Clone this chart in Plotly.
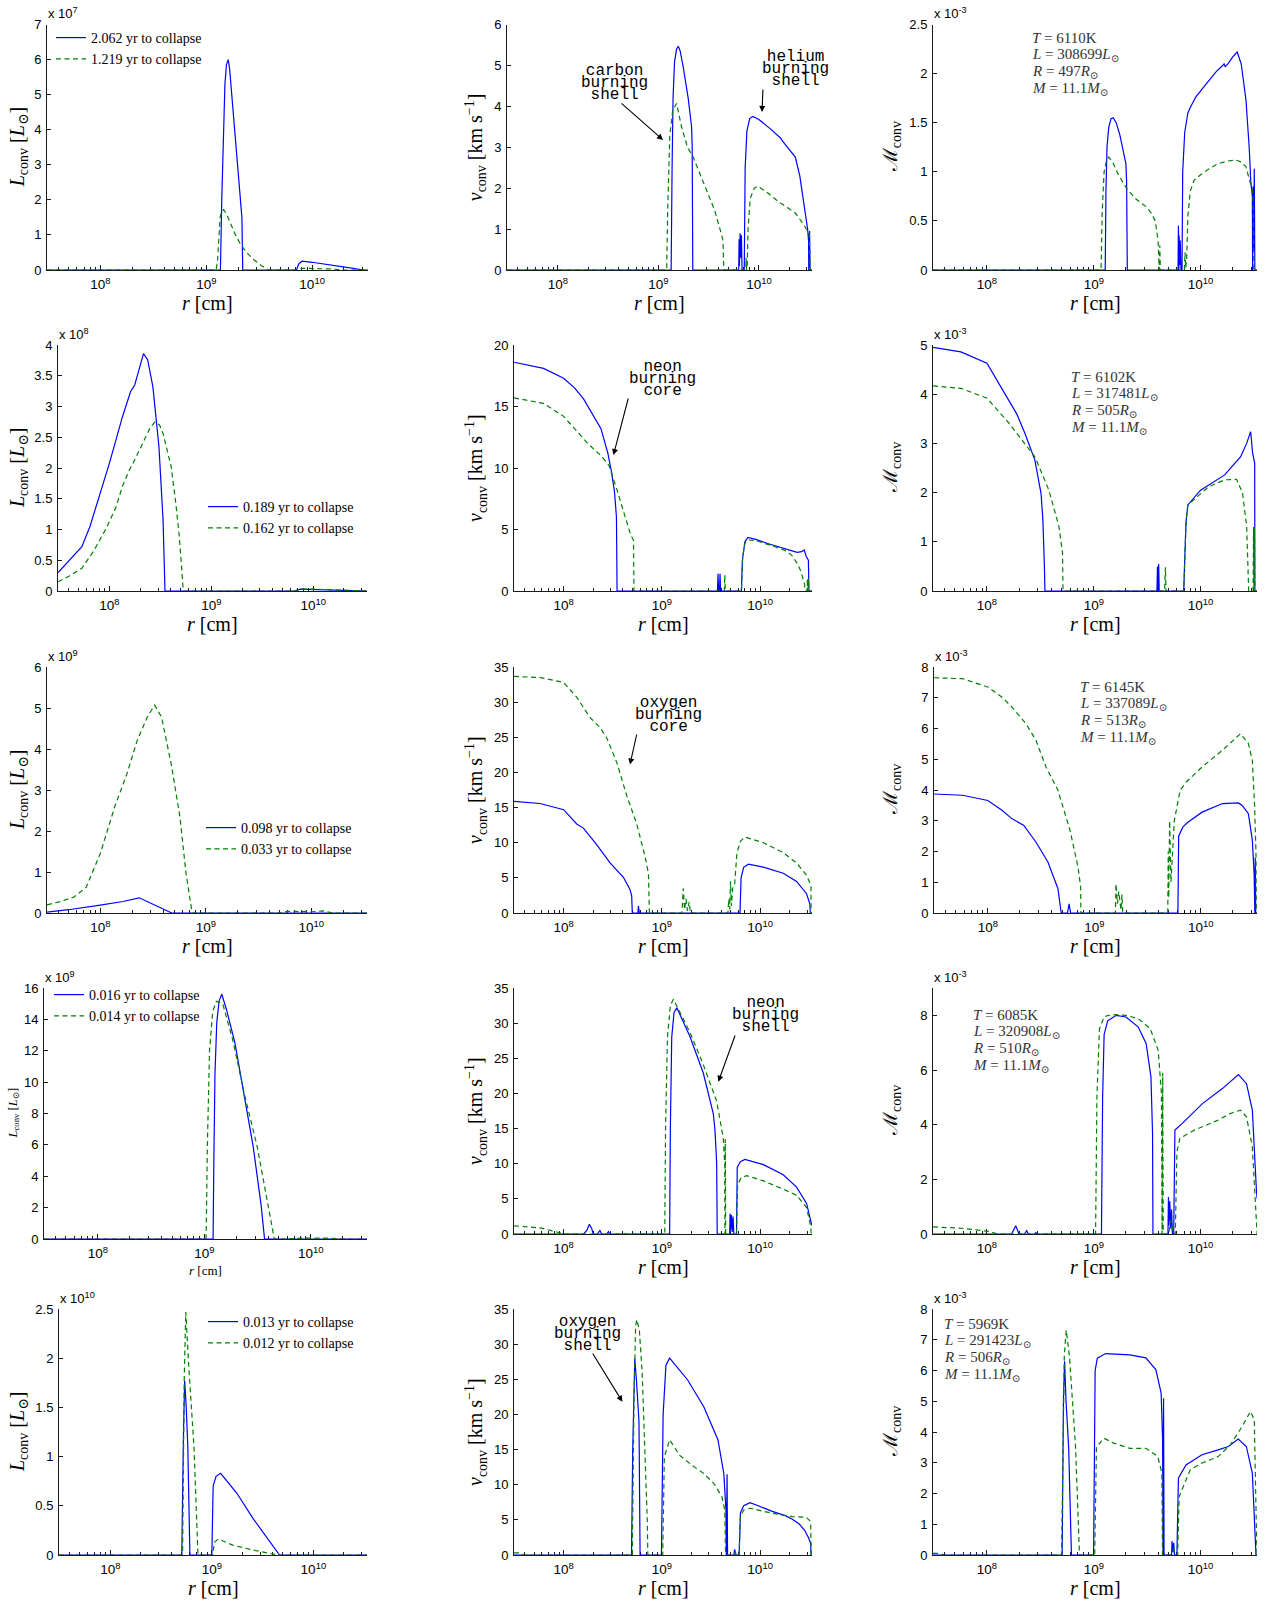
import plotly.graph_objects as go

W, H = 1270, 1606
BLUE = "#0000ff"
GREEN = "#008000"
TICK_FONT = "Liberation Sans, Arial, Helvetica, sans-serif"
SERIF = "Liberation Serif, Times New Roman, DejaVu Serif, serif"
MONO = "Liberation Mono, Courier New, DejaVu Sans Mono, monospace"

# ---------------------------------------------------------------- data
# r in cm; L_conv in units of the panel exponent; v_conv in km/s; Mach in 1e-3
# Row 1 : 2.062 yr (a, blue) / 1.219 yr (b, green) to collapse
r_L1_a = [3.13e7, 1.36e9, 1.40e9, 1.45e9, 1.50e9, 1.55e9, 1.61e9, 1.66e9, 1.75e9, 1.90e9, 2.05e9, 2.14e9, 2.17e9, 2.21e9, 7.1e9, 7.5e9, 8.05e9, 1.0e10, 1.5e10, 2.2e10, 3.06e10, 3.38e10]
L1_a = [0, 0, 2.0, 4.0, 5.3, 5.85, 6.0, 5.75, 4.9, 3.65, 2.5, 1.85, 1.5, 0, 0, 0.18, 0.25, 0.22, 0.15, 0.07, 0, 0]
r_L1_b = [3.13e7, 1.24e9, 1.28e9, 1.31e9, 1.35e9, 1.40e9, 1.46e9, 1.55e9, 1.70e9, 1.90e9, 2.10e9, 2.40e9, 2.80e9, 3.30e9, 3.90e9, 7.5e9, 8.0e9, 1.0e10, 1.5e10, 2.0e10, 3.38e10]
L1_b = [0, 0, 0.3, 1.0, 1.5, 1.68, 1.72, 1.6, 1.3, 0.98, 0.74, 0.5, 0.3, 0.13, 0, 0, 0.05, 0.05, 0.03, 0, 0]

r_v1_a = [3.13e7, 1.34e9, 1.37e9, 1.40e9, 1.45e9, 1.52e9, 1.58e9, 1.65e9, 1.77e9, 1.98e9, 2.14e9, 2.17e9, 2.20e9, 6.3e9, 6.35e9, 6.4e9, 6.5e9, 6.6e9, 6.7e9, 6.8e9, 7.15e9, 7.3e9, 7.6e9, 8.1e9, 8.7e9, 1.0e10, 1.3e10, 1.65e10, 1.72e10, 2.0e10, 2.3e10, 2.55e10, 2.8e10, 3.05e10, 3.12e10, 3.13e10, 3.15e10, 3.17e10, 3.19e10, 3.21e10, 3.23e10, 3.38e10]
v1_a = [0, 0, 2.5, 4.2, 5.1, 5.4, 5.47, 5.35, 4.95, 4.2, 3.5, 3.0, 0, 0, 0.75, 0.1, 0.9, 0.3, 0.85, 0, 0, 2.5, 3.4, 3.7, 3.75, 3.68, 3.45, 3.22, 3.15, 2.95, 2.76, 2.3, 1.6, 1.0, 0.7, 0, 0.9, 0.2, 0.95, 0.3, 0, 0]
r_v1_b = [3.13e7, 1.21e9, 1.24e9, 1.30e9, 1.39e9, 1.52e9, 1.70e9, 1.95e9, 2.22e9, 2.60e9, 3.10e9, 3.63e9, 4.10e9, 4.39e9, 4.45e9, 4.50e9, 7.40e9, 7.45e9, 7.55e9, 7.65e9, 7.8e9, 8.2e9, 9.0e9, 9.7e9, 1.2e10, 1.6e10, 2.0e10, 2.33e10, 2.8e10, 3.15e10, 3.2e10, 3.22e10, 3.38e10]
v1_b = [0, 0, 1.5, 3.3, 3.9, 4.07, 3.5, 3.0, 2.76, 2.35, 1.85, 1.46, 1.0, 0.73, 0.2, 0, 0, 0.3, 0, 0.1, 1.0, 1.75, 2.0, 2.05, 1.9, 1.65, 1.5, 1.38, 1.1, 0.9, 0.55, 0, 0]

r_M1_a = [3.13e7, 1.28e9, 1.30e9, 1.33e9, 1.38e9, 1.45e9, 1.52e9, 1.62e9, 1.75e9, 1.90e9, 2.00e9, 2.03e9, 2.06e9, 6.15e9, 6.2e9, 6.25e9, 6.3e9, 6.38e9, 6.45e9, 6.55e9, 6.7e9, 6.8e9, 7.1e9, 7.6e9, 8.05e9, 9.0e9, 1.1e10, 1.4e10, 1.6e10, 1.66e10, 1.7e10, 1.8e10, 2.0e10, 2.2e10, 2.4e10, 2.66e10, 2.85e10, 2.95e10, 3.05e10, 3.07e10, 3.1e10, 3.14e10, 3.18e10, 3.22e10, 3.38e10]
M1_a = [0, 0, 0.8, 1.25, 1.45, 1.54, 1.55, 1.5, 1.38, 1.2, 1.08, 0.9, 0, 0, 0.45, 0, 0.35, 0.05, 0.3, 0, 0, 1.0, 1.4, 1.6, 1.66, 1.76, 1.88, 2.02, 2.08, 2.1, 2.07, 2.1, 2.17, 2.22, 2.1, 1.73, 1.25, 0.9, 0.75, 0, 0.85, 0.2, 1.03, 0, 0]
r_M1_b = [3.13e7, 1.17e9, 1.20e9, 1.25e9, 1.32e9, 1.38e9, 1.50e9, 1.70e9, 2.03e9, 2.50e9, 3.14e9, 3.50e9, 3.76e9, 4.00e9, 4.10e9, 4.15e9, 4.20e9, 7.05e9, 7.15e9, 7.25e9, 7.4e9, 7.6e9, 8.0e9, 8.65e9, 1.0e10, 1.2e10, 1.44e10, 1.8e10, 2.14e10, 2.4e10, 2.66e10, 2.9e10, 3.07e10, 3.12e10, 3.15e10, 3.38e10]
M1_b = [0, 0, 0.6, 1.0, 1.12, 1.15, 1.1, 0.97, 0.83, 0.72, 0.64, 0.57, 0.5, 0.3, 0, 0.25, 0, 0, 0.18, 0.02, 0.1, 0.55, 0.8, 0.91, 0.97, 1.03, 1.08, 1.11, 1.12, 1.1, 1.05, 0.9, 0.8, 0.6, 0, 0]

# Row 2 : 0.189 yr / 0.162 yr
r_L2_a = [3.13e7, 4.07e7, 5.36e7, 6.44e7, 7.73e7, 1.0e8, 1.34e8, 1.61e8, 1.77e8, 1.94e8, 2.16e8, 2.37e8, 2.67e8, 3.06e8, 3.36e8, 3.51e8, 6.5e9, 7.5e9, 1.0e10, 2.0e10, 3.38e10]
L2_a = [0.3, 0.5, 0.72, 1.05, 1.48, 2.08, 2.83, 3.24, 3.35, 3.59, 3.86, 3.76, 3.32, 2.35, 1.15, 0, 0, 0.03, 0.025, 0.01, 0]
r_L2_b = [3.13e7, 4.0e7, 5.36e7, 7.0e7, 9.3e7, 1.15e8, 1.34e8, 1.55e8, 1.77e8, 2.22e8, 2.5e8, 2.8e8, 3.1e8, 3.36e8, 3.7e8, 4.04e8, 4.5e8, 4.85e8, 5.1e8, 5.3e8, 6.5e9, 7.5e9, 1.0e10, 2.0e10, 3.38e10]
L2_b = [0.15, 0.24, 0.37, 0.65, 1.02, 1.35, 1.70, 1.95, 2.13, 2.46, 2.65, 2.75, 2.7, 2.56, 2.3, 2.02, 1.4, 0.88, 0.4, 0, 0, 0.03, 0.03, 0.01, 0]

r_v2_a = [3.13e7, 6.25e7, 1.0e8, 1.3e8, 1.6e8, 1.9e8, 2.1e8, 2.4e8, 2.82e8, 3.1e8, 3.3e8, 3.45e8, 3.5e8, 3.68e9, 3.73e9, 3.78e9, 3.86e9, 3.91e9, 3.96e9, 6.45e9, 6.6e9, 7.0e9, 7.5e9, 9.0e9, 1.24e10, 1.98e10, 2.38e10, 2.65e10, 2.81e10, 2.95e10, 3.1e10, 3.14e10, 3.38e10]
v2_a = [18.6, 18.1, 17.3, 16.5, 15.6, 14.6, 14.0, 13.2, 11.2, 9.5, 8.0, 6.0, 0, 0, 1.4, 0, 0, 1.4, 0, 0, 2.5, 4.0, 4.36, 4.2, 3.82, 3.33, 3.14, 3.2, 3.33, 2.8, 2.5, 0, 0]
r_v2_b = [3.13e7, 6.25e7, 1.0e8, 1.76e8, 2.4e8, 2.9e8, 3.5e8, 4.1e8, 4.8e8, 5.15e8, 5.2e8, 4.32e9, 4.37e9, 4.42e9, 6.45e9, 6.65e9, 7.0e9, 7.6e9, 9.0e9, 1.24e10, 1.8e10, 2.1e10, 2.38e10, 2.6e10, 2.74e10, 2.84e10, 2.86e10, 3.0e10, 3.03e10, 3.06e10, 3.1e10, 3.14e10, 3.38e10]
v2_b = [15.7, 15.25, 14.2, 12.0, 11.0, 10.2, 8.2, 6.3, 4.6, 4.1, 0, 0, 1.3, 0, 0, 2.8, 3.9, 4.15, 4.1, 3.75, 3.3, 2.9, 2.25, 1.6, 1.03, 0.5, 0, 0, 1.0, 0, 1.0, 0, 0]

r_M2_a = [3.13e7, 5.7e7, 1.0e8, 1.35e8, 1.6e8, 1.75e8, 1.9e8, 2.27e8, 2.81e8, 3.21e8, 3.34e8, 3.45e8, 3.49e8, 3.9e9, 3.95e9, 4.0e9, 4.05e9, 4.1e9, 6.95e9, 7.3e9, 7.6e9, 1.0e10, 1.68e10, 2.37e10, 2.7e10, 2.94e10, 3.07e10, 3.21e10, 3.22e10, 3.38e10]
M2_a = [4.95, 4.86, 4.63, 4.15, 3.85, 3.71, 3.6, 3.2, 2.66, 1.98, 1.44, 0.5, 0, 0, 0.5, 0, 0.55, 0, 0, 1.4, 1.75, 2.05, 2.36, 2.73, 3.0, 3.24, 2.8, 2.6, 0, 0]
r_M2_b = [3.13e7, 5.7e7, 1.0e8, 1.61e8, 2.81e8, 3.8e8, 4.72e8, 5.1e8, 5.15e8, 4.6e9, 4.68e9, 4.75e9, 6.95e9, 7.3e9, 7.6e9, 1.19e10, 1.68e10, 2.17e10, 2.47e10, 2.7e10, 2.82e10, 3.1e10, 3.13e10, 3.16e10, 3.19e10, 3.22e10, 3.38e10]
M2_b = [4.17, 4.12, 3.92, 3.41, 2.73, 2.05, 1.31, 0.77, 0, 0, 0.48, 0, 0, 1.4, 1.75, 2.12, 2.26, 2.27, 1.99, 1.31, 0, 0, 1.3, 0, 1.3, 0, 0]

# Row 3 : 0.098 yr / 0.033 yr
r_L3_a = [3.13e7, 5.0e7, 1.0e8, 1.64e8, 2.34e8, 3.05e8, 3.98e8, 4.76e8, 3.38e10]
L3_a = [0.02, 0.08, 0.19, 0.28, 0.37, 0.23, 0.08, 0, 0]
r_L3_b = [3.13e7, 4.2e7, 5.64e7, 7.36e7, 1.0e8, 1.37e8, 1.79e8, 2.24e8, 2.79e8, 3.27e8, 3.81e8, 4.76e8, 5.69e8, 6.5e8, 7.43e8, 5.0e9, 6.0e9, 1.0e10, 1.3e10, 1.6e10, 3.38e10]
L3_b = [0.2, 0.28, 0.39, 0.63, 1.45, 2.59, 3.40, 4.21, 4.78, 5.07, 4.78, 3.56, 2.34, 0.96, 0, 0, 0.04, 0.03, 0.05, 0, 0]

r_v3_a = [3.13e7, 5.77e7, 1.0e8, 1.36e8, 1.59e8, 2.17e8, 2.97e8, 4.06e8, 4.74e8, 4.93e8, 5.0e8, 5.7e8, 5.77e8, 5.9e8, 6.24e9, 6.4e9, 6.8e9, 7.6e9, 1.08e10, 1.72e10, 2.35e10, 2.97e10, 3.21e10, 3.24e10, 3.38e10]
v3_a = [15.87, 15.58, 14.7, 12.66, 12.08, 9.74, 7.12, 5.08, 3.33, 2.45, 0, 0, 1.0, 0, 0, 5.0, 6.5, 6.94, 6.53, 5.66, 4.49, 2.74, 1.28, 0, 0]
r_v3_b = [3.13e7, 5.77e7, 1.0e8, 1.36e8, 1.86e8, 2.35e8, 2.75e8, 3.48e8, 4.39e8, 5.55e8, 6.75e8, 7.3e8, 7.47e8, 1.6e9, 1.65e9, 1.7e9, 1.76e9, 1.82e9, 1.9e9, 1.95e9, 4.7e9, 4.8e9, 4.9e9, 5.0e9, 5.1e9, 5.25e9, 5.5e9, 5.8e9, 6.3e9, 7.0e9, 1.08e10, 1.72e10, 2.35e10, 2.97e10, 3.29e10, 3.3e10, 3.38e10]
v3_b = [33.66, 33.5, 32.8, 30.7, 27.8, 26.4, 24.9, 21.4, 16.7, 12.66, 8.0, 5.66, 0, 0, 3.5, 0.5, 2.0, 0.3, 1.6, 0, 0, 2.0, 0.5, 4.5, 1.0, 3.5, 4.0, 8.5, 10.2, 10.8, 10.0, 8.58, 7.12, 5.37, 3.9, 0, 0]

r_M3_a = [3.13e7, 5.8e7, 1.0e8, 1.36e8, 1.68e8, 2.18e8, 2.83e8, 3.67e8, 4.56e8, 4.89e8, 5.6e8, 5.8e8, 6.0e8, 6.1e9, 6.2e9, 6.8e9, 7.62e9, 1.03e10, 1.6e10, 2.25e10, 2.45e10, 2.8e10, 3.05e10, 3.17e10, 3.22e10, 3.25e10, 3.28e10, 3.38e10]
M3_a = [3.87, 3.83, 3.66, 3.34, 3.07, 2.85, 2.31, 1.66, 0.79, 0, 0, 0.3, 0, 0, 2.5, 2.8, 2.96, 3.28, 3.56, 3.58, 3.5, 3.23, 2.36, 1.28, 0, 1.8, 0, 0]
r_M3_b = [3.13e7, 5.8e7, 1.0e8, 1.36e8, 1.68e8, 2.28e8, 2.83e8, 3.52e8, 4.56e8, 5.92e8, 7.03e8, 7.45e8, 7.48e8, 1.58e9, 1.6e9, 1.65e9, 1.7e9, 1.78e9, 1.82e9, 1.85e9, 4.9e9, 4.95e9, 5.0e9, 5.1e9, 5.25e9, 5.5e9, 5.64e9, 6.4e9, 7.3e9, 1.03e10, 1.59e10, 2.36e10, 2.8e10, 3.05e10, 3.2e10, 3.3e10, 3.32e10, 3.38e10]
M3_b = [7.65, 7.62, 7.35, 7.02, 6.70, 6.16, 5.62, 4.75, 3.99, 2.69, 1.5, 0.85, 0, 0, 0.95, 0.3, 0.7, 0.1, 0.6, 0, 0, 2.0, 0.5, 3.0, 1.0, 2.36, 3.0, 3.99, 4.26, 4.75, 5.29, 5.83, 5.51, 4.96, 3.5, 1.93, 0, 0]

# Row 4 : 0.016 yr / 0.014 yr
r_L4_a = [3.13e7, 1.21e9, 1.23e9, 1.26e9, 1.31e9, 1.38e9, 1.46e9, 1.62e9, 1.94e9, 2.41e9, 2.88e9, 3.43e9, 3.58e9, 3.68e9, 3.38e10]
L4_a = [0, 0, 5.0, 10.5, 13.8, 15.2, 15.6, 14.6, 12.5, 8.87, 5.89, 2.06, 0.47, 0, 0]
r_L4_b = [3.13e7, 1.04e9, 1.07e9, 1.12e9, 1.2e9, 1.3e9, 1.49e9, 1.85e9, 2.41e9, 3.14e9, 4.1e9, 4.55e9, 6.0e9, 8.0e9, 1.5e10, 2.0e10, 3.38e10]
L4_b = [0, 0, 6.0, 12.0, 14.5, 15.15, 15.0, 12.7, 9.08, 5.89, 1.64, 0, 0, 0.05, 0.05, 0, 0]

r_v4_a = [3.13e7, 1.6e8, 1.72e8, 1.83e8, 1.93e8, 2.0e8, 2.2e8, 2.34e8, 2.45e8, 2.75e8, 2.86e8, 2.95e8, 1.2e9, 1.22e9, 1.26e9, 1.33e9, 1.42e9, 1.93e9, 2.64e9, 3.34e9, 3.47e9, 3.61e9, 3.66e9, 4.9e9, 4.95e9, 5.0e9, 5.1e9, 5.2e9, 5.3e9, 5.4e9, 5.75e9, 5.85e9, 6.3e9, 7.0e9, 1.08e10, 1.72e10, 2.35e10, 2.97e10, 3.33e10, 3.38e10]
v4_a = [0, 0, 0.5, 1.4, 0.8, 0, 0, 0.5, 0, 0, 0.35, 0, 0, 15, 28, 31.5, 32.2, 28.1, 22.9, 17.1, 14.8, 10.2, 0, 0, 2.9, 0.5, 2.7, 0.3, 2.5, 0, 0, 9.5, 10.3, 10.6, 9.87, 8.42, 6.67, 4.35, 1.45, 1.2]
r_v4_b = [3.13e7, 5.77e7, 8.5e7, 1.0e8, 1.07e9, 1.09e9, 1.14e9, 1.22e9, 1.31e9, 1.93e9, 2.64e9, 3.61e9, 4.22e9, 4.36e9, 4.38e9, 4.42e9, 4.46e9, 5.75e9, 5.9e9, 6.4e9, 7.3e9, 1.08e10, 1.72e10, 2.35e10, 2.97e10, 3.29e10, 3.3e10, 3.38e10]
v4_b = [1.16, 0.87, 0.29, 0, 0, 15, 28, 32.5, 33.4, 28.7, 24.1, 18.9, 13.6, 10, 0, 13.5, 0, 0, 7.0, 8.0, 8.3, 7.55, 6.38, 5.51, 3.77, 0.87, 0, 0]

r_M4_a = [3.13e7, 1.7e8, 1.86e8, 2.0e8, 2.25e8, 2.35e8, 2.45e8, 2.8e8, 2.87e8, 2.95e8, 1.18e9, 1.21e9, 1.25e9, 1.35e9, 1.62e9, 2.0e9, 2.6e9, 3.09e9, 3.43e9, 3.55e9, 3.58e9, 4.95e9, 5.0e9, 5.05e9, 5.15e9, 5.25e9, 5.35e9, 5.45e9, 5.6e9, 5.75e9, 6.7e9, 1.04e10, 1.6e10, 2.26e10, 2.69e10, 3.05e10, 3.33e10, 3.38e10]
M4_a = [0, 0, 0.3, 0, 0, 0.12, 0, 0, 0.05, 0, 0, 5.0, 7.3, 7.8, 8.0, 7.94, 7.58, 6.97, 5.75, 3.68, 0, 0, 1.35, 0.3, 1.2, 0.2, 0.9, 0, 0, 3.8, 4.04, 4.77, 5.32, 5.83, 5.5, 4.53, 1.61, 1.3]
r_M4_b = [3.13e7, 5.8e7, 1.06e8, 1.26e8, 1.04e9, 1.07e9, 1.13e9, 1.25e9, 1.48e9, 2.0e9, 2.6e9, 3.37e9, 4.01e9, 4.3e9, 4.36e9, 4.42e9, 4.47e9, 5.0e9, 5.3e9, 5.5e9, 5.8e9, 6.0e9, 6.4e9, 8.73e9, 1.47e10, 1.9e10, 2.36e10, 2.69e10, 3.05e10, 3.33e10, 3.36e10, 3.38e10]
M4_b = [0.26, 0.21, 0.09, 0, 0, 5.0, 7.5, 7.95, 8.03, 8.0, 7.88, 7.52, 6.72, 5.14, 0, 5.9, 0, 0, 0.5, 0, 0, 3.0, 3.5, 3.8, 4.17, 4.41, 4.53, 4.29, 3.19, 0.27, 0, 0]

# Row 5 : 0.013 yr / 0.012 yr
r_L5_a = [3.13e7, 5.06e8, 5.25e8, 5.4e8, 5.6e8, 5.8e8, 6.08e8, 1.0e9, 1.03e9, 1.1e9, 1.22e9, 1.76e9, 2.55e9, 3.68e9, 4.64e9, 3.38e10]
L5_a = [0, 0, 1.2, 1.77, 1.5, 1.1, 0, 0, 0.7, 0.8, 0.83, 0.63, 0.37, 0.14, 0, 0]
r_L5_b = [3.13e7, 5.15e8, 5.35e8, 5.54e8, 5.9e8, 6.67e8, 7.3e8, 1.02e9, 1.06e9, 1.16e9, 1.6e9, 2.55e9, 4.5e9, 3.38e10]
L5_b = [0, 0, 1.8, 2.47, 1.95, 1.1, 0, 0, 0.13, 0.163, 0.10, 0.05, 0, 0]

r_v5_a = [3.13e7, 4.91e8, 5.05e8, 5.2e8, 5.3e8, 5.5e8, 5.85e8, 6.0e8, 9.9e8, 1.03e9, 1.1e9, 1.2e9, 1.83e9, 2.67e9, 3.72e9, 4.27e9, 4.49e9, 4.53e9, 4.61e9, 4.66e9, 5.42e9, 5.5e9, 5.6e9, 5.68e9, 6.12e9, 6.3e9, 6.8e9, 7.9e9, 1.0e10, 1.33e10, 1.8e10, 2.13e10, 2.5e10, 2.83e10, 3.1e10, 3.27e10, 3.3e10, 3.38e10]
v5_a = [0, 0, 15, 26, 28, 25, 19, 0, 0, 20, 27, 28.0, 24.9, 21.1, 16.4, 11.6, 6.4, 0, 11.5, 0, 0, 0.8, 0.2, 0, 0, 6.0, 7.0, 7.45, 6.9, 6.2, 5.6, 5.1, 4.4, 3.56, 2.5, 1.66, 0, 0]
r_v5_b = [3.13e7, 3.6e7, 4.0e7, 5.0e8, 5.2e8, 5.4e8, 5.55e8, 5.9e8, 6.3e8, 6.8e8, 7.1e8, 7.2e8, 1.02e9, 1.06e9, 1.2e9, 1.51e9, 2.01e9, 2.67e9, 3.37e9, 4.08e9, 4.37e9, 4.45e9, 5.5e9, 5.6e9, 5.7e9, 6.1e9, 6.3e9, 6.8e9, 7.9e9, 1.33e10, 2.13e10, 2.95e10, 3.27e10, 3.3e10, 3.32e10, 3.38e10]
v5_b = [0.3, 0.3, 0, 0, 22, 32.5, 33.5, 32, 26, 14, 5, 0, 0, 14, 16.4, 14.2, 12.8, 11.6, 10.2, 8.3, 6.4, 0, 0, 0.4, 0, 0, 5.5, 6.4, 6.65, 5.94, 5.46, 5.37, 4.75, 0.7, 0, 0]

r_M5_a = [3.13e7, 5.06e8, 5.2e8, 5.33e8, 5.5e8, 5.82e8, 6.18e8, 9.96e8, 1.03e9, 1.08e9, 1.29e9, 2.17e9, 3.07e9, 3.81e9, 4.27e9, 4.41e9, 4.45e9, 4.5e9, 4.55e9, 5.35e9, 5.4e9, 5.5e9, 5.6e9, 5.7e9, 6.0e9, 6.2e9, 7.3e9, 1.03e10, 1.46e10, 1.82e10, 2.25e10, 2.68e10, 3.05e10, 3.28e10, 3.3e10, 3.38e10]
M5_a = [0, 0, 5.0, 6.3, 5.0, 3.5, 0, 0, 6.0, 6.4, 6.55, 6.51, 6.41, 6.03, 5.27, 3.75, 0, 5.1, 0, 0, 0.45, 0.1, 0.4, 0, 0, 2.5, 2.93, 3.26, 3.42, 3.53, 3.77, 3.53, 2.66, 0.49, 0, 0]
r_M5_b = [3.13e7, 3.6e7, 4.0e7, 5.0e8, 5.3e8, 5.52e8, 5.92e8, 6.75e8, 7.35e8, 1.02e9, 1.06e9, 1.24e9, 1.53e9, 2.17e9, 3.07e9, 3.98e9, 4.34e9, 4.4e9, 5.5e9, 5.6e9, 5.7e9, 6.1e9, 6.3e9, 8.0e9, 1.03e10, 1.46e10, 1.9e10, 2.45e10, 2.93e10, 3.18e10, 3.33e10, 3.35e10, 3.38e10]
M5_b = [0.05, 0.05, 0, 0, 6.5, 7.31, 6.46, 3.53, 0, 0, 3.5, 3.8, 3.64, 3.47, 3.47, 3.2, 2.66, 0, 0, 0.3, 0, 0, 1.9, 2.77, 2.99, 3.2, 3.58, 4.18, 4.67, 4.4, 0.8, 0, 0]

# legend labels (years to collapse)
YRS_A = ["2.062", "0.189", "0.098", "0.016", "0.013"]
YRS_B = ["1.219", "0.162", "0.033", "0.014", "0.012"]
# surface properties shown in the right column
INFO_T = ["6110", "6102", "6145", "6085", "5969"]
INFO_L = ["308699", "317481", "337089", "320908", "291423"]
INFO_R = ["497", "505", "513", "510", "506"]
INFO_M = ["11.1", "11.1", "11.1", "11.1", "11.1"]

# y axis maxima / tick steps / exponents
YMAX = [[7, 6, 2.5], [4, 20, 5], [6, 35, 8], [16, 35, 9], [2.5, 35, 8]]
YDT = [[1, 1, 0.5], [0.5, 5, 1], [1, 5, 1], [2, 5, 2], [0.5, 5, 1]]
EXPS = [["7", None, "-3"], ["8", None, "-3"], ["9", None, "-3"], ["9", None, "-3"], ["10", None, "-3"]]

SERIES = [
    [((r_L1_a, L1_a), (r_L1_b, L1_b)), ((r_v1_a, v1_a), (r_v1_b, v1_b)), ((r_M1_a, M1_a), (r_M1_b, M1_b))],
    [((r_L2_a, L2_a), (r_L2_b, L2_b)), ((r_v2_a, v2_a), (r_v2_b, v2_b)), ((r_M2_a, M2_a), (r_M2_b, M2_b))],
    [((r_L3_a, L3_a), (r_L3_b, L3_b)), ((r_v3_a, v3_a), (r_v3_b, v3_b)), ((r_M3_a, M3_a), (r_M3_b, M3_b))],
    [((r_L4_a, L4_a), (r_L4_b, L4_b)), ((r_v4_a, v4_a), (r_v4_b, v4_b)), ((r_M4_a, M4_a), (r_M4_b, M4_b))],
    [((r_L5_a, L5_a), (r_L5_b, L5_b)), ((r_v5_a, v5_a), (r_v5_b, v5_b)), ((r_M5_a, M5_a), (r_M5_b, M5_b))],
]

# ---------------------------------------------------------------- layout (pixels)
BOX = [  # (x0, x1, ytop, ybottom) per row, per column
    [(47, 368, 24.5, 270), (507, 812, 24.5, 270), (933, 1257, 24.5, 270)],
    [(58, 367, 345, 591), (514, 812, 345, 591), (933, 1257, 345, 591)],
    [(47, 367, 667, 913), (514, 812, 667, 913), (934, 1257, 667, 913)],
    [(44, 367, 988, 1239), (514, 812, 988, 1234), (933, 1257, 988, 1234)],
    [(59, 367, 1309, 1555), (514, 812, 1309, 1555), (933, 1257, 1309, 1555)],
]
LEG = [(51, 22), (203, 491), (201, 812), (49, 979), (203, 1306)]
INFO_POS = [(1030, 38), (1069, 377), (1078, 687), (971, 1015), (942, 1324)]
NOTES = [  # (text lines, center x, middle-line y, arrow tail (x,y), arrow head (x,y))
    (["carbon", "burning", "shell"], 614, 83.3, (620, 102), (663, 140)),
    (["helium", "burning", "shell"], 795, 69.3, (763, 88), (762, 112)),
    (["neon", "burning", "core"], 662, 379.5, (628.6, 397), (613.5, 455)),
    (["oxygen", "burning", "core"], 668, 714.7, (637, 733), (630, 764.5)),
    (["neon", "burning", "shell"], 766, 1015, (735.6, 1034), (718.3, 1081.7)),
    (["oxygen", "burning", "shell"], 587, 1334.3, (591.8, 1352), (622.4, 1401.7)),
]


def fx(p):
    return p / W


def fy(p):
    return 1 - p / H


R_RANGE = [7.495, 10.528]
XTICKS = [1e8, 1e9, 1e10]
XTICKTEXT = ["10<sup>8</sup>", "10<sup>9</sup>", "10<sup>10</sup>"]
MINOR = [k * 10.0 ** e for e in (7, 8, 9, 10) for k in range(2, 10) if 3.13e7 < k * 10.0 ** e < 3.38e10]

YTITLES = ["<i>L</i><sub>conv</sub> [<i>L</i><sub>⊙</sub>]",
           "<i>v</i><sub>conv</sub> [km s<sup>−1</sup>]",
           "ℳ<sub>conv</sub>"]
YTITLE_X = [18, 476, 891]

fig = go.Figure()
layout = dict(width=W, height=H, autosize=False,
              margin=dict(l=0, r=0, t=0, b=0, pad=0, autoexpand=False),
              paper_bgcolor="white", plot_bgcolor="white", showlegend=True,
              template="none")
annotations = []

for i in range(5):
    for j in range(3):
        n = i * 3 + j + 1
        sfx = "" if n == 1 else str(n)
        x0, x1, yt, yb = BOX[i][j]
        legid = "legend" if i == 0 else f"legend{i + 1}"
        (ra, ya), (rb, yb_vals) = SERIES[i][j]
        fig.add_trace(go.Scatter(
            x=ra, y=ya, mode="lines", line=dict(color=BLUE, width=1.2),
            name=f"{YRS_A[i]} yr to collapse", showlegend=(j == 0), legend=legid,
            xaxis="x" + sfx, yaxis="y" + sfx, hoverinfo="skip"))
        fig.add_trace(go.Scatter(
            x=rb, y=yb_vals, mode="lines", line=dict(color=GREEN, width=1.2, dash="5px,3.5px"),
            name=f"{YRS_B[i]} yr to collapse", showlegend=(j == 0), legend=legid,
            xaxis="x" + sfx, yaxis="y" + sfx, hoverinfo="skip"))

        layout["xaxis" + sfx] = dict(
            type="log", range=R_RANGE, domain=[fx(x0), fx(x1)], anchor="y" + sfx,
            automargin=False,
            showline=True, linecolor="#1a1a1a", linewidth=1, mirror=False,
            ticks="inside", ticklen=5, tickwidth=1, tickcolor="#1a1a1a",
            tickmode="array", tickvals=XTICKS, ticktext=XTICKTEXT, ticklabelstandoff=2,
            tickfont=dict(family=TICK_FONT, size=13.5, color="#000"),
            showgrid=False, zeroline=False, layer="below traces",
            minor=dict(tickmode="array", tickvals=MINOR, ticks="inside", ticklen=3,
                       tickwidth=1, tickcolor="#1a1a1a", showgrid=False))
        layout["yaxis" + sfx] = dict(
            range=[0, YMAX[i][j]], domain=[fy(yb), fy(yt)], anchor="x" + sfx,
            automargin=False,
            showline=True, linecolor="#1a1a1a", linewidth=1,
            ticks="inside", ticklen=4, tickwidth=1, tickcolor="#1a1a1a",
            tick0=0, dtick=YDT[i][j], ticklabelstandoff=2,
            tickfont=dict(family=TICK_FONT, size=13, color="#000"),
            showgrid=False, zeroline=False, layer="below traces")

        small = (i == 3 and j == 0)
        # x title
        annotations.append(dict(
            text="<i>r</i> [cm]", xref="paper", yref="paper",
            x=fx((x0 + x1) / 2), y=fy(yb + (31 if small else 33)),
            xanchor="center", yanchor="middle", showarrow=False,
            font=dict(family=SERIF, size=13 if small else 20, color="#000")))
        # y title
        annotations.append(dict(
            text=YTITLES[j], xref="paper", yref="paper",
            x=fx(13 if small else YTITLE_X[j]), y=fy((yt + yb) / 2),
            xanchor="center", yanchor="middle", textangle=-90, showarrow=False,
            font=dict(family=SERIF, size=12.5 if small else 20, color="#000")))
        # exponent label
        if EXPS[i][j] is not None:
            annotations.append(dict(
                text=f"x 10<sup>{EXPS[i][j]}</sup>", xref="paper", yref="paper",
                x=fx(x0 - 1), y=fy(yt - 1), xanchor="left", yanchor="bottom",
                showarrow=False, font=dict(family=TICK_FONT, size=13, color="#000")))

    # legend for this row
    lx, ly = LEG[i]
    layout["legend" if i == 0 else f"legend{i + 1}"] = dict(
        x=fx(lx), y=fy(ly), xanchor="left", yanchor="top",
        bgcolor="rgba(0,0,0,0)", borderwidth=0, tracegroupgap=0,
        font=dict(family=SERIF, size=14, color="#000"))

    # surface info text (right column)
    ix, iy = INFO_POS[i]
    lines = [f"<i>T</i> = {INFO_T[i]}K",
             f"<i>L</i> = {INFO_L[i]}<i>L</i><sub>⊙</sub>",
             f"<i>R</i> = {INFO_R[i]}<i>R</i><sub>⊙</sub>",
             f"<i>M</i> = {INFO_M[i]}<i>M</i><sub>⊙</sub>"]
    for k, t in enumerate(lines):
        annotations.append(dict(
            text=t, xref="paper", yref="paper", x=fx(ix), y=fy(iy + 17 * k),
            xanchor="left", yanchor="middle", showarrow=False,
            font=dict(family=SERIF, size=15, color="#333")))

# burning-region labels and arrows (middle column):
# one text block per label; tight line spacing from a small base size,
# glyphs enlarged with a span
for words, cx, ymid, tail, head in NOTES:
    block = "<br>".join(f"<span style='font-size:16px'>{w}</span>" for w in words)
    annotations.append(dict(
        text=block, xref="paper", yref="paper", x=fx(cx), y=fy(ymid),
        xanchor="center", yanchor="middle", align="center", showarrow=False,
        font=dict(family=MONO, size=9.1, color="#000")))
    annotations.append(dict(
        text="", xref="paper", yref="paper", x=fx(head[0]), y=fy(head[1]),
        ax=tail[0] - head[0], ay=tail[1] - head[1], axref="pixel", ayref="pixel",
        showarrow=True, arrowhead=2, arrowsize=1.1, arrowwidth=1.1,
        arrowcolor="#000", standoff=0, startstandoff=0))

layout["annotations"] = annotations
fig.update_layout(**layout)
fig.write_html(
    "out.html",
    config={"displayModeBar": False, "staticPlot": True},
    post_script="document.body.style.margin='0';document.body.style.padding='0';"
                "document.body.style.overflow='hidden';")
